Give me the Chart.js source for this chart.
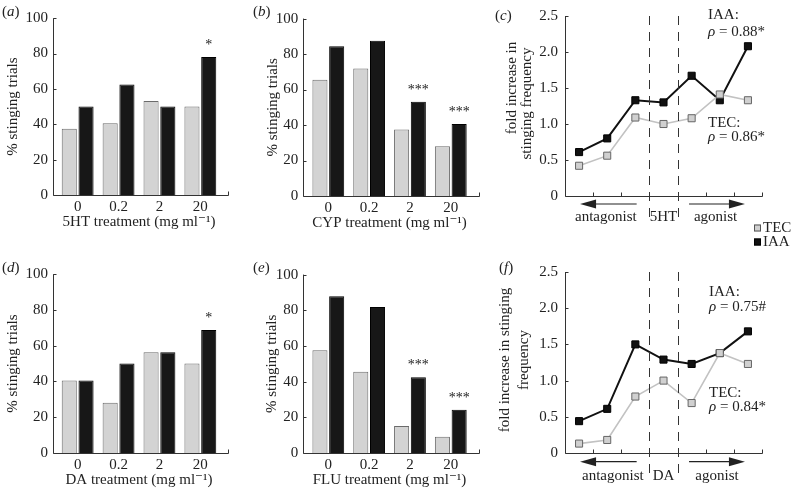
<!DOCTYPE html>
<html>
<head>
<meta charset="utf-8">
<title>stinging trials</title>
<script src="https://cdn.jsdelivr.net/npm/chart.js@4.4.1/dist/chart.umd.min.js"></script>
<style>
  body { margin: 0; background: #fff; }
  #fig { position: relative; width: 797px; height: 493px; overflow: hidden;
         font-family: "Liberation Serif", "DejaVu Serif", serif; color: #222; }
  #fig canvas { position: absolute; }
  .tag { position: absolute; font-size: 15px; line-height: 18px; white-space: nowrap; }
</style>
</head>
<body>
<div id="fig">
  <canvas id="pa"></canvas>
  <canvas id="pb"></canvas>
  <canvas id="pc"></canvas>
  <canvas id="pd"></canvas>
  <canvas id="pe"></canvas>
  <canvas id="pf"></canvas>
  <span class="tag" style="left:2px;top:2px">(<i>a</i>)</span>
  <span class="tag" style="left:253px;top:2px">(<i>b</i>)</span>
  <span class="tag" style="left:495px;top:6px">(<i>c</i>)</span>
  <span class="tag" style="left:2px;top:258px">(<i>d</i>)</span>
  <span class="tag" style="left:253px;top:258px">(<i>e</i>)</span>
  <span class="tag" style="left:499px;top:258px">(<i>f</i>)</span>
</div>
<script>
// dose categories + y ticks
const doses = ["0", "0.2", "2", "20"];
const pctTicks = [0, 20, 40, 60, 80, 100];
const foldTicks = [0, 0.5, 1, 1.5, 2, 2.5];
const steps = ["ant 20", "ant 2", "ant 0.2", "control", "ag 0.2", "ag 2", "ag 20"];

// % stinging trials, TEC vs IAA
const tec5HT = [37.5, 40.6, 53.1, 50.0];
const iaa5HT = [50.0, 62.5, 50.0, 78.1];
const sig5HT = ["", "", "", "*"];
const tecCYP = [65.6, 71.9, 37.5, 28.1];
const iaaCYP = [84.4, 87.5, 53.1, 40.6];
const sigCYP = ["", "", "***", "***"];
const tecDA = [40.6, 28.1, 56.3, 50.0];
const iaaDA = [40.6, 50.0, 56.3, 68.8];
const sigDA = ["", "", "", "*"];
const tecFLU = [57.6, 45.5, 15.2, 9.1];
const iaaFLU = [87.9, 81.8, 42.4, 24.2];
const sigFLU = ["", "", "***", "***"];

// fold increase in stinging frequency
const tecFold5HT = [0.42, 0.56, 1.09, 1.00, 1.08, 1.41, 1.33];
const iaaFold5HT = [0.61, 0.80, 1.33, 1.30, 1.67, 1.33, 2.08];
const tecFoldDA = [0.13, 0.18, 0.78, 1.00, 0.69, 1.38, 1.23];
const iaaFoldDA = [0.44, 0.61, 1.50, 1.29, 1.23, 1.38, 1.68];

Chart.defaults.font.family = '"Liberation Serif", "DejaVu Serif", serif';
Chart.defaults.font.size = 15;
Chart.defaults.color = '#222';

const px = v => Math.round(v) + 0.5;
function seg(ctx, x1, y1, x2, y2) {
  ctx.beginPath(); ctx.moveTo(x1, y1); ctx.lineTo(x2, y2); ctx.stroke();
}
function parts(ctx, list, x, y) {
  list.forEach(([t, it]) => {
    ctx.font = (it ? 'italic ' : '') + '15px ' + Chart.defaults.font.family;
    ctx.fillText(t, x, y);
    x += ctx.measureText(t).width;
  });
}

// axes with inward ticks, significance marks, arrows, notes
const decor = {
  id: 'decor',
  afterDatasetsDraw(chart, args, o) {
    const { ctx, chartArea: a, scales: { x, y } } = chart;
    const fam = Chart.defaults.font.family;
    ctx.save();
    ctx.strokeStyle = '#333'; ctx.lineWidth = 1;
    const ax = px(a.left - (o.gap || 0)), ex = px(a.right + (o.ext || 0));
    const yb = px(y.getPixelForValue(0)), yt = y.getPixelForValue(y.max);
    seg(ctx, ax, yt, ax, yb);
    seg(ctx, ax, yb, ex, yb);
    y.ticks.forEach(t => { const py = px(y.getPixelForValue(t.value)); seg(ctx, ax, py, ax + 3, py); });
    if (o.endTick) seg(ctx, ex, yb, ex, yb - 4);
    if (o.bounds) for (let i = 0; i < o.bounds; i++) {
      const bx = px(x.getPixelForValue(i + 0.5)); seg(ctx, bx, yb, bx, yb - 4);
    }
    if (o.dashes) {
      ctx.setLineDash([9, 7]);
      o.dashes.forEach(v => { const dx = px(x.getPixelForValue(v)); seg(ctx, dx, a.top, dx, yb + o.dashExt); });
      ctx.setLineDash([]);
    }
    ctx.fillStyle = '#222';
    if (o.sig) {
      ctx.font = '14px ' + fam; ctx.textAlign = 'center'; ctx.textBaseline = 'alphabetic';
      chart.getDatasetMeta(1).data.forEach((b, i) => { if (o.sig[i]) ctx.fillText(o.sig[i], b.x, b.y - 8); });
    }
    if (o.arrows) {
      ctx.strokeStyle = '#222'; ctx.lineWidth = 1.2;
      const ay = a.bottom + o.arrows.dy;
      o.arrows.list.forEach(r => {
        const x1 = x.getPixelForValue(r.from) + r.dFrom, x2 = x.getPixelForValue(r.to) + r.dTo;
        const s = Math.sign(x2 - x1);
        seg(ctx, x1, ay, x2 - s * 10, ay);
        ctx.beginPath(); ctx.moveTo(x2, ay); ctx.lineTo(x2 - s * 16, ay - 4.5); ctx.lineTo(x2 - s * 16, ay + 4.5);
        ctx.closePath(); ctx.fill();
      });
    }
    if (o.labels) {
      ctx.font = '15px ' + fam; ctx.textAlign = 'center'; ctx.textBaseline = 'middle';
      o.labels.forEach(l => ctx.fillText(l.text, x.getPixelForValue(l.v), a.bottom + l.dy));
    }
    if (o.notes) {
      ctx.textAlign = 'left'; ctx.textBaseline = 'middle';
      o.notes.forEach(n => parts(ctx, n.parts, n.x, n.y));
    }
    if (o.yTitle) {
      ctx.font = '15px ' + fam; ctx.textAlign = 'center'; ctx.textBaseline = 'middle';
      o.yTitle.forEach(t => {
        ctx.save(); ctx.translate(t.x, t.y); ctx.rotate(-Math.PI / 2); ctx.fillText(t.text, 0, 0); ctx.restore();
      });
    }
    if (o.legend) {
      ctx.font = '15px ' + fam; ctx.textAlign = 'left'; ctx.textBaseline = 'middle'; ctx.lineWidth = 1;
      o.legend.items.forEach((it, i) => {
        const ly = o.legend.y + i * o.legend.step;
        ctx.fillStyle = it.fill; ctx.strokeStyle = it.stroke;
        ctx.fillRect(o.legend.x, ly - 3.5, 7, 7); ctx.strokeRect(o.legend.x + 0.5, ly - 3, 6, 6);
        ctx.fillStyle = '#222'; ctx.fillText(it.text, o.legend.x + 9, ly);
      });
    }
    ctx.restore();
  }
};
Chart.register(decor);

function place(id, box) {
  const cv = document.getElementById(id);
  cv.width = box.w; cv.height = box.h;
  cv.style.left = box.l + 'px'; cv.style.top = box.t + 'px';
  return cv;
}

const noGrid = { display: false, drawTicks: false, tickLength: 0 };

function barPanel(id, box, g, xTitle, tec, iaa, sig) {
  const cv = place(id, box);
  const L = g.L - box.l, R = g.R - box.l, T = g.T - box.t, B = g.B - box.t;
  new Chart(cv, {
    type: 'bar',
    data: { labels: doses, datasets: [
      { label: 'TEC', data: tec, backgroundColor: '#d3d3d3', borderColor: '#6b6b6b', borderWidth: 1,
        categoryPercentage: 0.82, barPercentage: 0.9 },
      { label: 'IAA', data: iaa, backgroundColor: '#171717', borderColor: '#000', borderWidth: 1,
        categoryPercentage: 0.82, barPercentage: 0.9 }
    ]},
    options: {
      responsive: false, animation: false, events: [],
      layout: { padding: { left: 0, top: T, right: box.w - R, bottom: 0 } },
      plugins: { legend: { display: false }, tooltip: { enabled: false },
        decor: { gap: g.L - g.axis, ext: g.end - g.R, endTick: true, sig: sig } },
      scales: {
        x: { grid: noGrid, border: { display: false },
             ticks: { padding: 3, maxRotation: 0 },
             title: { display: true, text: xTitle, padding: { top: 0, bottom: box.h - B - 36 } },
             afterFit: s => { s.height = box.h - B; } },
        y: { min: 0, max: 100, grid: noGrid, border: { display: false },
             afterBuildTicks: s => { s.ticks = pctTicks.map(v => ({ value: v })); },
             ticks: { padding: g.L - g.axis + 5 },
             title: { display: true, text: '% stinging trials', padding: { top: g.yt - box.l - 9, bottom: 0 } },
             afterFit: s => { s.width = L; } }
      }
    }
  });
}

function linePanel(id, box, g, tec, iaa, deco) {
  const cv = place(id, box);
  const L = g.L - box.l, R = g.R - box.l, T = g.T - box.t, B = g.B - box.t;
  new Chart(cv, {
    type: 'line',
    data: { labels: steps, datasets: [
      { label: 'TEC', data: tec, borderColor: '#c2c2c2', borderWidth: 1.6, pointStyle: 'rect', pointRadius: 5,
        pointBackgroundColor: '#d0d0d0', pointBorderColor: '#666', pointBorderWidth: 1, tension: 0, clip: false },
      { label: 'IAA', data: iaa, borderColor: '#111', borderWidth: 2, pointStyle: 'rect', pointRadius: 5,
        pointBackgroundColor: '#111', pointBorderColor: '#000', pointBorderWidth: 1, tension: 0, clip: false }
    ]},
    options: {
      responsive: false, animation: false, events: [],
      layout: { padding: { left: 0, top: T, right: box.w - R, bottom: 0 } },
      plugins: { legend: { display: false }, tooltip: { enabled: false },
        decor: Object.assign({ bounds: steps.length, dashes: [2.5, 3.5] }, deco) },
      scales: {
        x: { offset: true, grid: noGrid, border: { display: false }, ticks: { display: false },
             afterFit: s => { s.height = box.h - B; } },
        y: { min: 0, max: 2.5, grid: noGrid, border: { display: false },
             afterBuildTicks: s => { s.ticks = foldTicks.map(v => ({ value: v })); },
             ticks: { padding: 7, callback: v => v === 0 ? '0' : v.toFixed(1) },
             afterFit: s => { s.width = L; } }
      }
    }
  });
}

barPanel('pa', { l: 0, t: 0, w: 245, h: 245 },
  { axis: 53, L: 57.2, R: 220.8, T: 11, B: 195, end: 228, yt: 13 },
  '5HT treatment (mg ml\u207B\u00B9)', tec5HT, iaa5HT, sig5HT);
barPanel('pb', { l: 250, t: 0, w: 245, h: 245 },
  { axis: 303.3, L: 307.9, R: 471.2, T: 11, B: 196, end: 479, yt: 272.7 },
  'CYP treatment (mg ml\u207B\u00B9)', tecCYP, iaaCYP, sigCYP);
barPanel('pd', { l: 0, t: 256, w: 245, h: 237 },
  { axis: 53, L: 57.2, R: 220.8, T: 267, B: 453, end: 228, yt: 13 },
  'DA treatment (mg ml\u207B\u00B9)', tecDA, iaaDA, sigDA);
barPanel('pe', { l: 250, t: 256, w: 245, h: 237 },
  { axis: 303.3, L: 307.9, R: 471.2, T: 267, B: 453, end: 479, yt: 272.5 },
  'FLU treatment (mg ml\u207B\u00B9)', tecFLU, iaaFLU, sigFLU);

linePanel('pc', { l: 480, t: 0, w: 317, h: 250 },
  { L: 565, R: 762, T: 11, B: 196 }, tecFold5HT, iaaFold5HT, {
    dashExt: 21,
    arrows: { dy: 8, list: [{ from: 2, dFrom: 1.3, to: 0, dTo: 1 }, { from: 4, dFrom: -2.6, to: 6, dTo: -3 }] },
    labels: [{ text: 'antagonist', v: 0.95, dy: 21.5 }, { text: '5HT', v: 3, dy: 21.5 }, { text: 'agonist', v: 4.85, dy: 21.5 }],
    notes: [
      { parts: [['IAA:', false]], x: 228, y: 15 },
      { parts: [['\u03C1', true], [' = 0.88*', false]], x: 228, y: 31.7 },
      { parts: [['TEC:', false]], x: 228, y: 123.3 },
      { parts: [['\u03C1', true], [' = 0.86*', false]], x: 228, y: 136.7 }
    ],
    yTitle: [{ text: 'fold increase in', x: 32, y: 88 }, { text: 'stinging frequency', x: 47, y: 103.5 }],
    legend: { x: 274, y: 228, step: 14, items: [
      { text: 'TEC', fill: '#d0d0d0', stroke: '#555' }, { text: 'IAA', fill: '#111', stroke: '#000' }
    ] }
  });
linePanel('pf', { l: 480, t: 256, w: 317, h: 237 },
  { L: 565, R: 762, T: 267, B: 453 }, tecFoldDA, iaaFoldDA, {
    dashExt: 26,
    arrows: { dy: 8.7, list: [{ from: 2, dFrom: 1.3, to: 0, dTo: 1 }, { from: 4, dFrom: -2.6, to: 6, dTo: -3 }] },
    labels: [{ text: 'antagonist', v: 1.2, dy: 23 }, { text: 'DA', v: 3, dy: 23 }, { text: 'agonist', v: 4.9, dy: 23 }],
    notes: [
      { parts: [['IAA:', false]], x: 229, y: 35.7 },
      { parts: [['\u03C1', true], [' = 0.75#', false]], x: 229, y: 50.7 },
      { parts: [['TEC:', false]], x: 229, y: 137.3 },
      { parts: [['\u03C1', true], [' = 0.84*', false]], x: 229, y: 151.3 }
    ],
    yTitle: [{ text: 'fold increase in stinging', x: 25, y: 104 }, { text: 'frequency', x: 44, y: 104 }]
  });
</script>
</body>
</html>
